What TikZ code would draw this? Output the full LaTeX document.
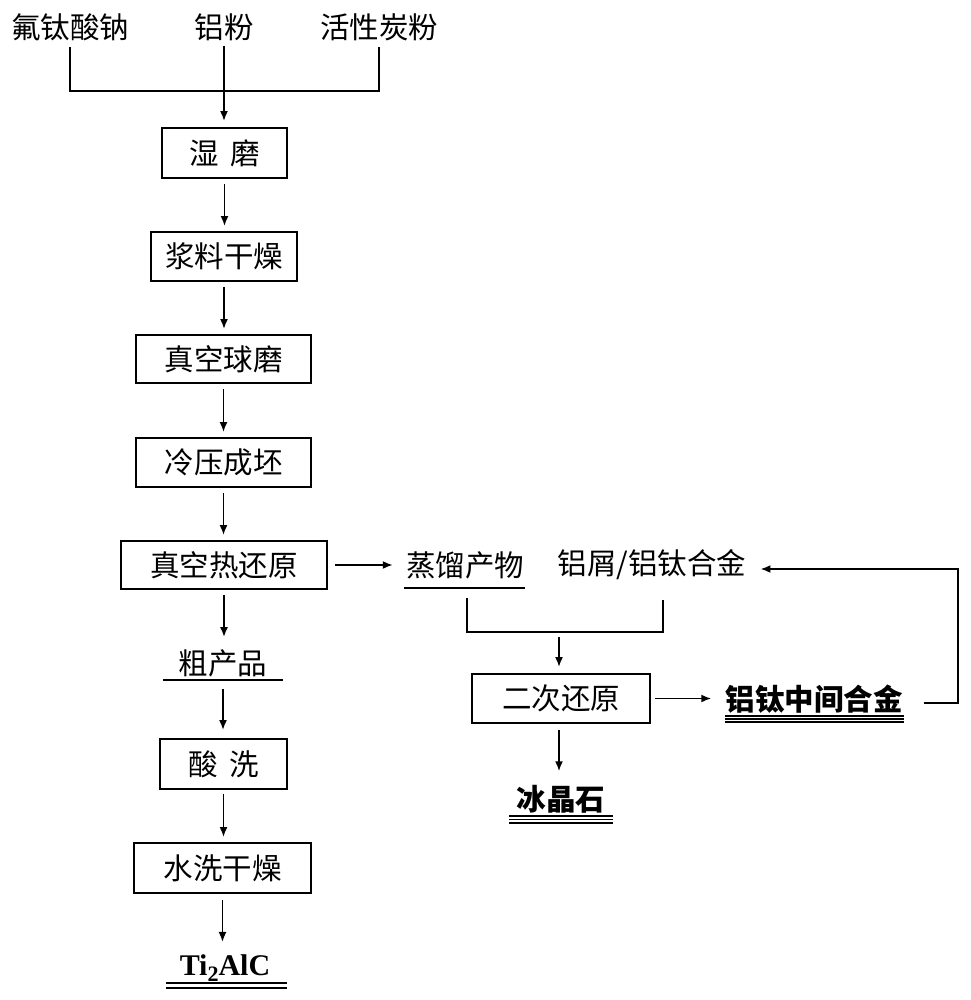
\documentclass[tikz,border=0pt]{standalone}
\usepackage{fontspec}
\setmainfont{Noto Sans CJK SC}
\newfontfamily\tnr{Liberation Serif}
\usetikzlibrary{arrows.meta}
\begin{document}
\begin{tikzpicture}[x=1pt,y=-1pt,
  box/.style={draw,line width=1.9pt,inner sep=0pt,font=\fontsize{29.5}{30}\selectfont},
  lbl/.style={inner sep=0pt,font=\fontsize{29.5}{30}\selectfont},
  blbl/.style={inner sep=0pt,font=\fontsize{29.5}{30}\selectfont\bfseries},
  arr/.style={line width=1.8pt,-{Latex[length=10pt,width=8pt]},shorten <=5pt,shorten >=5pt},
  ln/.style={line width=1.8pt},
  ul1/.style={line width=2.8pt},
  ul2/.style={line width=2.2pt},
  ul3/.style={line width=1.4pt},
]
\fill[white] (0,0) rectangle (970,1000);
\useasboundingbox (0,0) rectangle (970,1000);

% top inputs
\node[lbl] (t1) at (70,27) {氟钛酸钠};
\node[lbl] (t2) at (224,27) {铝粉};
\node[lbl] (t3) at (379,27) {活性炭粉};

% main column boxes
\node[box,minimum width=125pt,minimum height=50pt] (b1) at (224.5,153) {湿\hspace{12pt}磨};
\node[box,minimum width=146pt,minimum height=49pt] (b2) at (224,256.5) {浆料干燥};
\node[box,minimum width=175pt,minimum height=48pt] (b3) at (223.5,359) {真空球磨};
\node[box,minimum width=175pt,minimum height=49pt] (b4) at (223.5,462.5) {冷压成坯};
\node[box,minimum width=206pt,minimum height=48pt] (b5) at (224,565) {真空热还原};
\node[lbl] (p1) at (223,663) {粗产品};
\node[box,minimum width=127pt,minimum height=50pt] (b6) at (223.5,764) {酸\hspace{12pt}洗};
\node[box,minimum width=177pt,minimum height=50pt] (b7) at (222.5,868) {水洗干燥};
\node[inner sep=0pt,anchor=base,font=\tnr\bfseries\fontsize{30}{30}\selectfont] (ti) at (225,975)
  {Ti\raisebox{-6pt}{\fontsize{22}{22}\selectfont 2}AlC};

% right branch
\node[lbl] (s1) at (465,565) {蒸馏产物};
\node[lbl] (s2) at (652,565) {铝屑/铝钛合金};
\node[box,minimum width=178pt,minimum height=49pt] (b8) at (561,698.5) {二次还原};
\node[blbl] (m1) at (814,699) {铝钛中间合金};
\node[blbl] (c1) at (561,799) {冰晶石};

% input bracket
\coordinate (j1) at (224,91);
\draw[ln] ([yshift=-6pt]t1.south) -- (t1.south |- j1) -- (t3.south |- j1) -- ([yshift=-6pt]t3.south);
\draw[arr,shorten >=6pt] (t2.south) -- (t2.south |- b1.north);

% main column arrows
\draw[arr] (b1.south) -- (b1.south |- b2.north);
\draw[arr] (b2.south) -- (b2.south |- b3.north);
\draw[arr] (b3.south) -- (b3.south |- b4.north);
\draw[arr] (b4.south) -- (b4.south |- b5.north);
\draw[arr,shorten >=12pt] (b5.south) -- (b5.south |- p1.north);
\draw[arr,shorten <=12pt,shorten >=8pt] (p1.south) -- (p1.south |- b6.north);
\draw[arr,shorten <=4pt] (b6.south) -- (b6.south |- b7.north);
\draw[arr,shorten <=6pt,shorten >=12pt] (b7.south) -- (b7.south |- ti.north);

% underlines
\draw[ul1] ([xshift=-60pt,yshift=-17pt]p1.center) -- ([xshift=60pt,yshift=-17pt]p1.center);
\draw[ul2] (166,983) -- (287,983);
\draw[ul2] (166,988) -- (287,988);
\draw[ul1] ([xshift=-61pt,yshift=-23pt]s1.center) -- ([xshift=60pt,yshift=-23pt]s1.center);
\foreach \yy in {716,719,722} { \draw[ul3] (725,\yy) -- (904,\yy); }
\foreach \yy in {816,819.5,823} { \draw[ul3] (509,\yy) -- (613,\yy); }

% right branch connectors
\draw[arr,shorten <=7pt,shorten >=13pt] (b5.east) -- (b5.east -| s1.west);
\coordinate (j2) at (559,632);
\draw[ln] ([xshift=2pt,yshift=-19.5pt]s1.south) -- ([xshift=2pt]s1.south |- j2) -- ([xshift=11pt]s2.south |- j2) -- ([xshift=11pt,yshift=-19.5pt]s2.south);
\draw[arr,shorten >=6pt] (j2) -- (j2 |- b8.north);
\draw[arr,shorten <=4pt,shorten >=14pt] (b8.east) -- (b8.east -| m1.west);
\draw[arr,shorten <=6pt,shorten >=13.5pt] (b8.south -| j2) -- (j2 |- c1.north);
\coordinate (fb) at (958,569);
\draw[arr,shorten <=0pt,shorten >=0pt] ([xshift=21pt,yshift=-4pt]m1.east) -| (fb) -- ([xshift=14pt,yshift=-4pt]s2.east);
\end{tikzpicture}
\end{document}
